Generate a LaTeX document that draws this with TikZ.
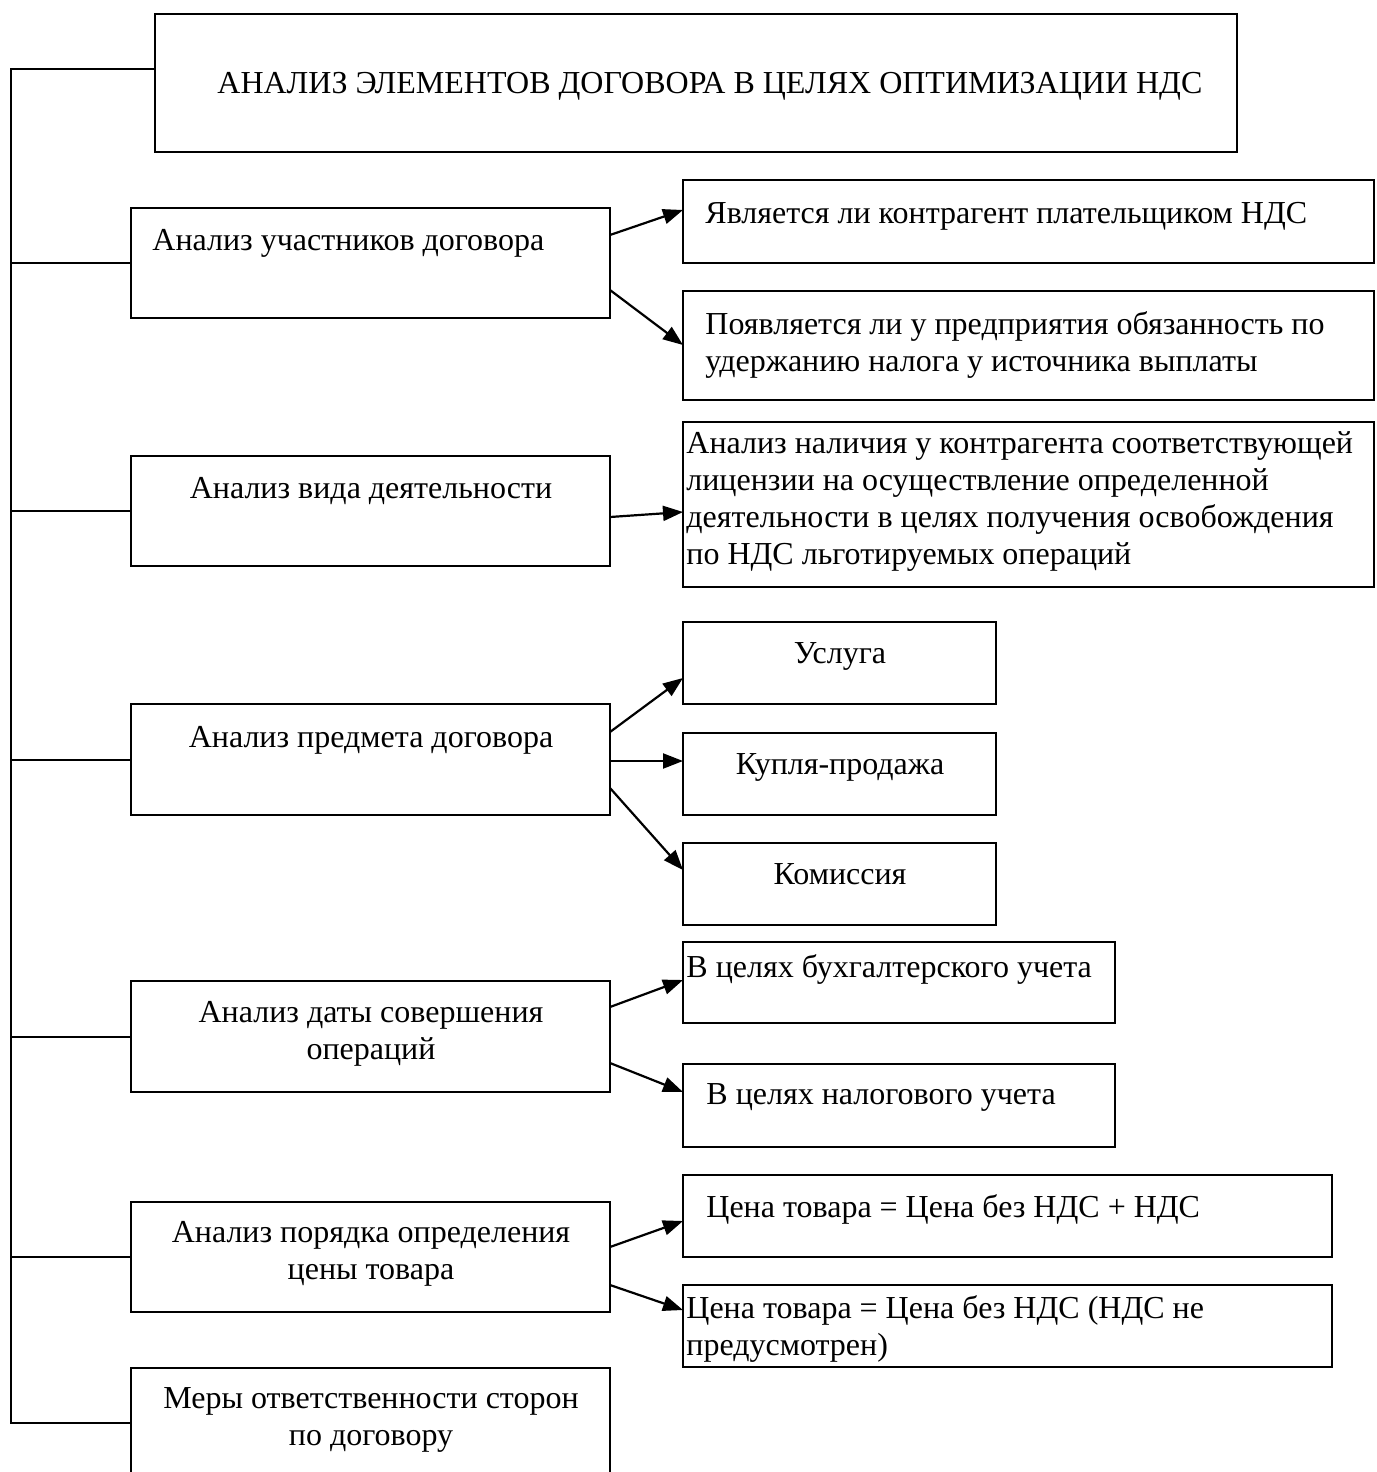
\documentclass[tikz,border=0pt]{standalone}
\usepackage{fontspec}
\setmainfont{Liberation Serif}
\usetikzlibrary{arrows.meta,calc}

\tikzset{
	box/.style 2 args = {draw, line width = 0.9pt, anchor = north west, inner sep = 0, outer sep = 0,
		minimum width = #1*0.5pt, minimum height = #2*0.5pt},
	txt/.style = {inner sep = 0, font = \fontsize{16}{18.5}\selectfont},
	link/.style = {line width = 1.1pt, -{Triangle[length = 10pt, width = 7.5pt]}}
}

\begin{document}
\begin{tikzpicture}[x = 0.5pt, y = -0.5pt]

	\useasboundingbox (0, 0) rectangle (1376, 1472);

	% Boxes

	\node [box = {1082}{138}] (top) at (155, 14) {};

	\node [box = {479}{110}] (uch) at (131, 208) {};
	\node [box = {479}{110}] (vid) at (131, 456) {};
	\node [box = {479}{111}] (pred) at (131, 704) {};
	\node [box = {479}{111}] (data) at (131, 981) {};
	\node [box = {479}{110}] (cena) at (131, 1202) {};
	\node [box = {479}{110}] (mery) at (131, 1368) {};

	\node [box = {691}{83}] (plat) at (683, 180) {};
	\node [box = {691}{109}] (uder) at (683, 291) {};
	\node [box = {691}{165}] (lic) at (683, 422) {};
	\node [box = {313}{82}] (usl) at (683, 622) {};
	\node [box = {313}{82}] (kup) at (683, 733) {};
	\node [box = {313}{82}] (kom) at (683, 843) {};
	\node [box = {432}{81}] (buh) at (683, 942) {};
	\node [box = {432}{83}] (nal) at (683, 1064) {};
	\node [box = {649}{82}] (cplus) at (683, 1175) {};
	\node [box = {649}{82}] (cbez) at (683, 1285) {};

	% Texts

	\node [txt, anchor = north] (top-t) at (710, 72) {АНАЛИЗ ЭЛЕМЕНТОВ ДОГОВОРА В ЦЕЛЯХ ОПТИМИЗАЦИИ НДС};

	\node [txt, anchor = north west] (uch-t) at (152, 229) {Анализ участников договора};
	\node [txt, anchor = north] (vid-t) at (371, 477) {Анализ вида деятельности};
	\node [txt, anchor = north] (pred-t) at (371, 726) {Анализ предмета договора};
	\node [txt, anchor = north, align = center] (data-t) at (371, 1001) {Анализ даты совершения\\операций};
	\node [txt, anchor = north, align = center] (cena-t) at (371, 1221) {Анализ порядка определения\\цены товара};
	\node [txt, anchor = north, align = center] (mery-t) at (371, 1387) {Меры ответственности сторон\\по договору};

	\node [txt, anchor = north west] (plat-t) at (705, 202) {Является ли контрагент плательщиком НДС};
	\node [txt, anchor = north west, align = left] (uder-t) at (705, 311)
		{Появляется ли у предприятия обязанность по\\удержанию налога у источника выплаты};
	\node [txt, anchor = north west, align = left] (lic-t) at (686, 431)
		{Анализ наличия у контрагента соответствующей\\лицензии на осуществление определенной\\деятельности в целях получения освобождения\\по НДС льготируемых операций};
	\node [txt, anchor = north] (usl-t) at (840, 642) {Услуга};
	\node [txt, anchor = north] (kup-t) at (840, 753) {Купля-продажа};
	\node [txt, anchor = north] (kom-t) at (840, 863) {Комиссия};
	\node [txt, anchor = north west] (buh-t) at (686, 954) {В целях бухгалтерского учета};
	\node [txt, anchor = north west] (nal-t) at (706, 1083) {В целях налогового учета};
	\node [txt, anchor = north west] (cplus-t) at (706, 1194) {Цена товара = Цена без НДС + НДС};
	\node [txt, anchor = north west, align = left] (cbez-t) at (686, 1295)
		{Цена товара = Цена без НДС (НДС не\\предусмотрен)};

	% Trunk on the left

	\coordinate (trunk) at (11, 69);

	\begin{scope}[line width = 1pt]

		\draw (top.west |- trunk) -- (trunk) -- (trunk |- mery.west) -- (mery.west);
		\foreach \b in {uch, vid, pred, data, cena}
			\draw (trunk |- \b.west) -- (\b.west);

	\end{scope}

	% Arrows

	\draw [link] ($(uch.north east) + (0, 27)$) -- ($(plat.north west) + (0, 30)$);
	\draw [link] ($(uch.north east) + (0, 82)$) -- ($(uder.north west) + (0, 54)$);
	\draw [link] ($(vid.north east) + (0, 61)$) -- ($(lic.north west) + (0, 90)$);
	\draw [link] ($(pred.north east) + (0, 28)$) -- ($(usl.north west) + (0, 56)$);
	\draw [link] ($(pred.north east) + (0, 57)$) -- ($(kup.north west) + (0, 28)$);
	\draw [link] ($(pred.north east) + (0, 84)$) -- ($(kom.north west) + (0, 27)$);
	\draw [link] ($(data.north east) + (0, 26)$) -- ($(buh.north west) + (0, 38)$);
	\draw [link] ($(data.north east) + (0, 82)$) -- ($(nal.north west) + (0, 28)$);
	\draw [link] ($(cena.north east) + (0, 45)$) -- ($(cplus.north west) + (0, 46)$);
	\draw [link] ($(cena.north east) + (0, 83)$) -- ($(cbez.north west) + (0, 25)$);

\end{tikzpicture}
\end{document}
